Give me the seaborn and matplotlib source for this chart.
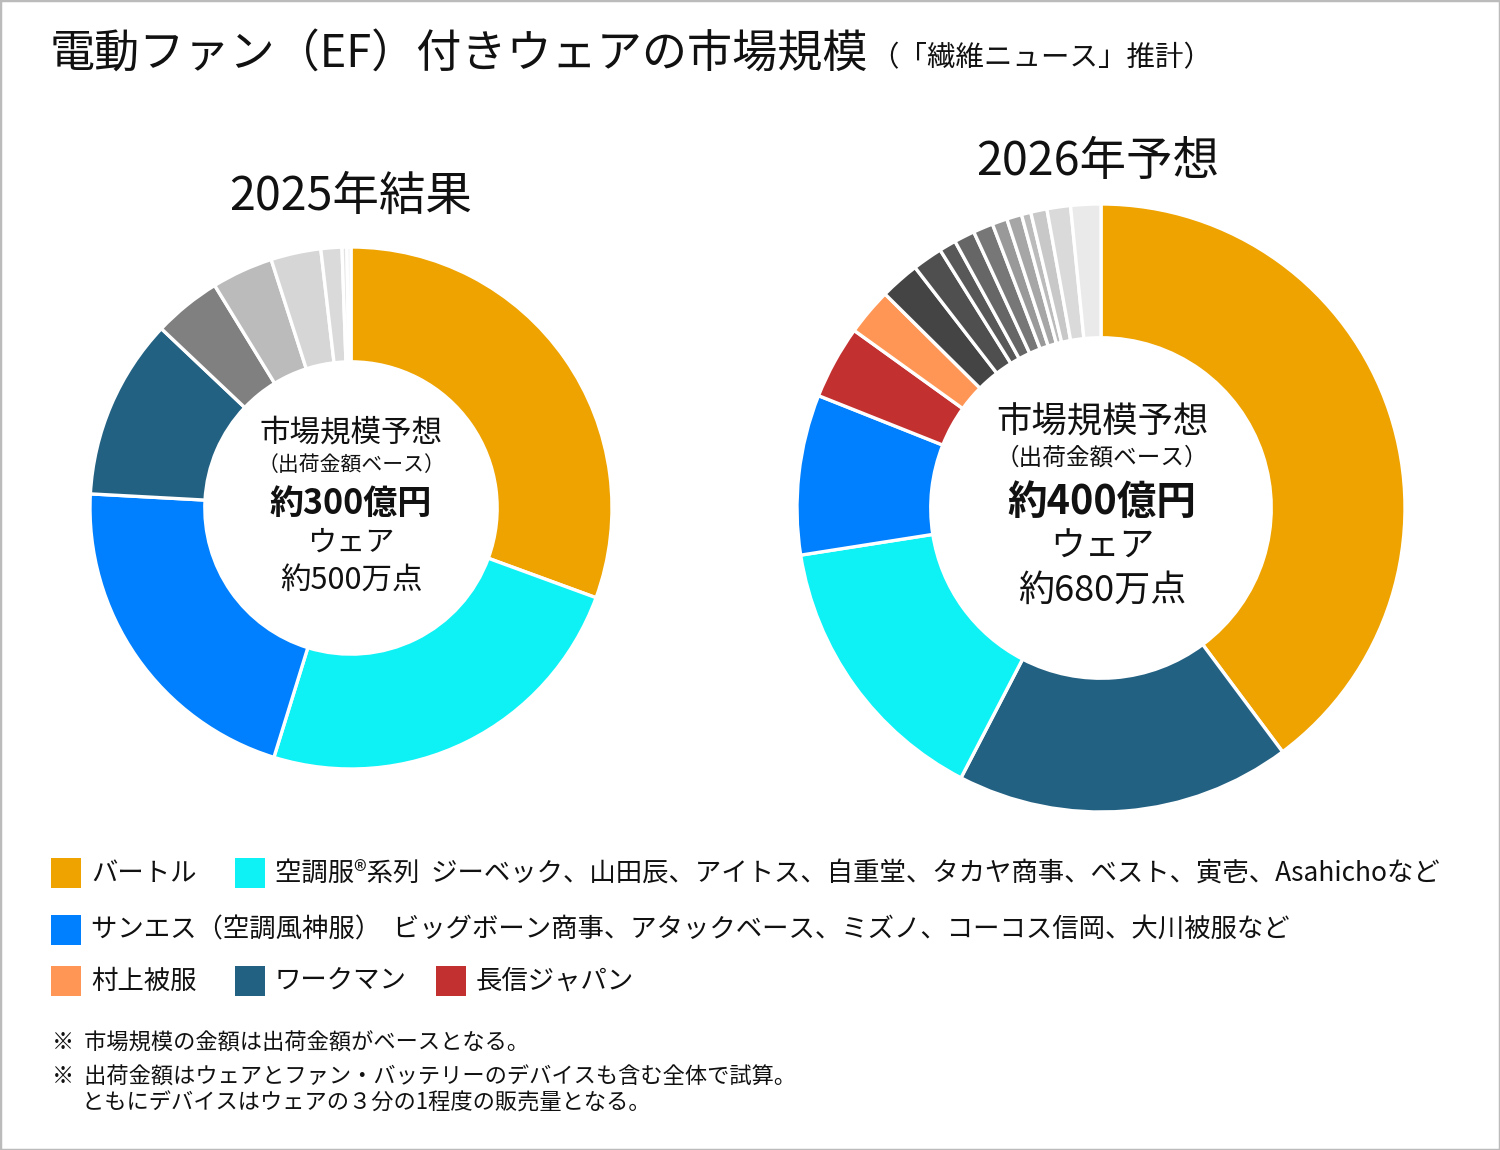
import matplotlib
matplotlib.use("Agg")
import matplotlib.pyplot as plt
from matplotlib.patches import Rectangle
import seaborn as sns

SHARE_2025 = [30.6, 24.2, 21.1, 11.2, 4.2, 3.8, 3.1, 1.3, 0.3, 0.25]
COLORS_2025 = ["#EFA300", "#0EF1F5", "#0080FF", "#236183",
               "#808080", "#BBBBBB", "#D6D6D6", "#DADADA", "#E2E2E2", "#EBEBEB"]

SHARE_2026 = [39.8, 17.8, 14.9, 8.5, 3.9, 2.5, 2.1, 1.6, 0.9, 1.1,
              1.06, 0.8, 0.8, 0.5, 0.86, 1.25, 1.6]
COLORS_2026 = ["#EFA300", "#236183", "#0EF1F5", "#0080FF", "#C33030", "#FF9655",
               "#444444", "#4F4F4F", "#585858", "#666666", "#777777", "#999999",
               "#A6A6A6", "#BBBBBB", "#C8C8C8", "#DADADA", "#EAEAEA"]

CENTER_2025 = ["市場規模予想", "（出荷金額ベース）", "約300億円", "ウェア", "約500万点"]
CENTER_2026 = ["市場規模予想", "（出荷金額ベース）", "約400億円", "ウェア", "約680万点"]

LEGEND_ROWS = [
    [("#EFA300", "バートル"),
     ("#0EF1F5", "空調服®系列  ジーベック、山田辰、アイトス、自重堂、タカヤ商事、ベスト、寅壱、Asahichoなど")],
    [("#0080FF", "サンエス（空調風神服）  ビッグボーン商事、アタックベース、ミズノ、コーコス信岡、大川被服など")],
    [("#FF9655", "村上被服"), ("#236183", "ワークマン"), ("#C33030", "長信ジャパン")],
]
LEGEND_X = [[51, 235], [51], [51, 235, 436]]
LEGEND_Y = [873, 930, 981]

NOTES = ["※  市場規模の金額は出荷金額がベースとなる。",
         "※  出荷金額はウェアとファン・バッテリーのデバイスも含む全体で試算。",
         "      ともにデバイスはウェアの３分の1程度の販売量となる。"]

sns.set_theme(style="white")
plt.rcParams["font.family"] = ["Noto Sans CJK JP", "DejaVu Sans"]

W, H = 1500, 1150
fig = plt.figure(figsize=(15, 11.5), dpi=100)


def fx(px):
    return px / W


def fy(py):
    return 1 - py / H


def donut(cx, cy, r, shares, colors):
    ax = fig.add_axes([fx(cx - r), fy(cy + r), 2 * r / W, 2 * r / H])
    ax.pie(shares, colors=colors, startangle=90, counterclock=False, radius=1,
           wedgeprops=dict(width=0.44, edgecolor="white", linewidth=2.4))
    ax.set_xlim(-1, 1)
    ax.set_ylim(-1, 1)
    ax.axis("off")
    return ax


donut(351, 508, 261, SHARE_2025, COLORS_2025)
donut(1101, 508, 304, SHARE_2026, COLORS_2026)

# center texts
for cx, lines, ys, sizes in [
    (351, CENTER_2025, [433, 465, 503, 543, 580], [22, 15, 24.5, 21, 22]),
    (1102, CENTER_2026, [422, 458, 502, 547, 591], [25.5, 17, 28.5, 25, 26]),
]:
    for i, (t, y, s) in enumerate(zip(lines, ys, sizes)):
        fig.text(fx(cx), fy(y), t, ha="center", va="center", fontsize=s,
                 fontweight="bold" if i == 2 else "normal", color="#111111")

fig.text(fx(351), fy(197), "2025年結果", ha="center", va="center", fontsize=33.5, color="#111111")
fig.text(fx(1098), fy(162), "2026年予想", ha="center", va="center", fontsize=33.5, color="#111111")

# title
t = fig.text(fx(50), fy(55), "電動ファン（EF）付きウェアの市場規模", ha="left", va="center",
             fontsize=32.5, color="#111111")
fig.canvas.draw()
bb = t.get_window_extent()
fig.text(bb.x1 / W + 0.001, fy(58), "（「繊維ニュース」推計）", ha="left", va="center",
         fontsize=20.5, color="#111111")

# legend
for row, xs, y in zip(LEGEND_ROWS, LEGEND_X, LEGEND_Y):
    for (c, label), x in zip(row, xs):
        fig.patches.append(Rectangle((fx(x), fy(y + 15)), 30 / W, 30 / H, transform=fig.transFigure,
                                     facecolor=c, edgecolor="none"))
        fig.text(fx(x + 40), fy(y), label, ha="left", va="center", fontsize=19, color="#111111")

# footnotes
for note, y in zip(NOTES, [1043, 1077, 1103]):
    fig.text(fx(52), fy(y), note, ha="left", va="center", fontsize=16, color="#111111")

# outer frame
fig.patches.append(Rectangle((0, 0), 1, 1, transform=fig.transFigure, facecolor="none",
                             edgecolor="#BBBBBB", linewidth=2.5))

fig.savefig("out.png", dpi=100, facecolor="white")
